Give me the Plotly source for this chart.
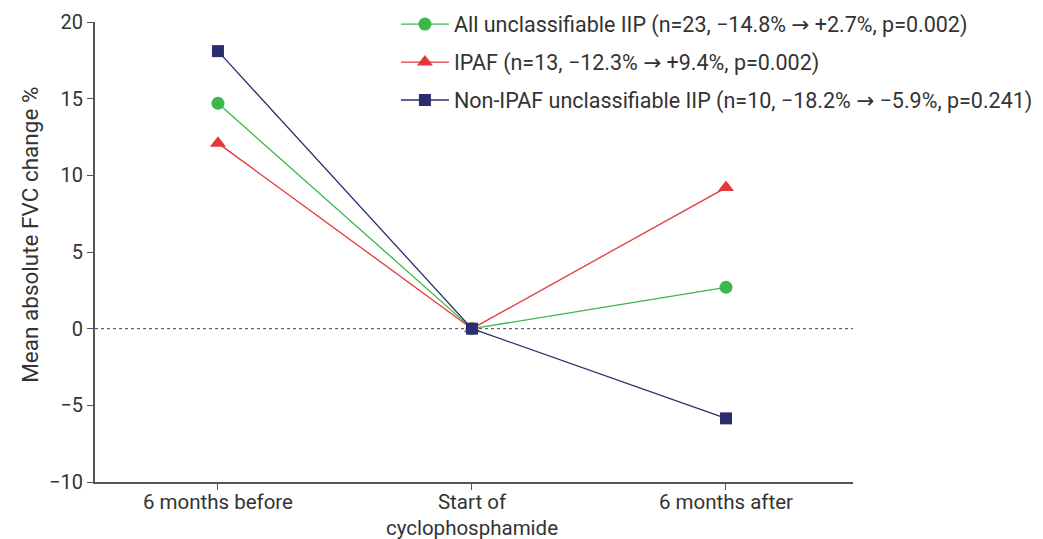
import plotly.graph_objects as go

categories = ["6 months before", "Start of<br>cyclophosphamide", "6 months after"]
all_iip = [14.7, 0.0, 2.7]
ipaf = [12.1, 0.0, 9.2]
non_ipaf = [18.1, 0.0, -5.85]
y_title = "Mean absolute FVC change %"

ARROW = '<span style="font-family:DejaVu Sans">\u2192</span>'
names = [
    f"All unclassifiable IIP (n=23, \u221214.8% {ARROW} +2.7%, p=0.002)",
    f"IPAF (n=13, \u221212.3% {ARROW} +9.4%, p=0.002)",
    f"Non-IPAF unclassifiable IIP (n=10, \u221218.2% {ARROW} \u22125.9%, p=0.241)",
]
colors = ["#3db64a", "#e5373b", "#2b2e6e"]
symbols = ["circle", "triangle-up", "square"]
series = [all_iip, ipaf, non_ipaf]
sizes = [13, 14, 12]

xpos = list(range(len(categories)))
fig = go.Figure()
for i, (vals, name, c, s, sz) in enumerate(zip(series, names, colors, symbols, sizes)):
    fig.add_trace(go.Scatter(
        x=xpos, y=vals, mode="lines+markers", name=name,
        legendgroup=str(i),
        line=dict(color=c, width=1.3),
        marker=dict(color=c, symbol=s, size=sz, line=dict(width=0)),
    ))

fig.add_shape(type="line", xref="x domain", yref="y", x0=0, x1=1, y0=0, y1=0,
              line=dict(color="#444", width=1, dash="dot"), layer="below")

fig.add_annotation(text=y_title, xref="paper", yref="paper", x=-0.086, y=0.537,
                   textangle=-90, showarrow=False, xanchor="center", yanchor="middle",
                   font=dict(size=22.5, color="#333"))

fig.update_layout(
    width=1043, height=539,
    margin=dict(l=95, r=190, t=22, b=57, autoexpand=False),
    paper_bgcolor="white", plot_bgcolor="white",
    font=dict(family="Roboto", size=21, color="#333"),
    showlegend=True,
    legend=dict(x=0.397, y=1.04, xanchor="left", yanchor="top",
                traceorder="grouped", tracegroupgap=7,
                font=dict(size=21.5, color="#333"), bgcolor="rgba(0,0,0,0)",
                itemwidth=48),
    xaxis=dict(range=[-0.484, 2.5], tickmode="array", tickvals=xpos, ticktext=categories,
               showline=True, linecolor="#555", linewidth=2, ticks="outside",
               tickcolor="#555", ticklen=6, tickwidth=1, showgrid=False, zeroline=False,
               ticklabelstandoff=-6,
               tickfont=dict(size=20.5, color="#333")),
    yaxis=dict(range=[-10, 20], tickvals=[-10, -5, 0, 5, 10, 15, 20],
               showline=True, linecolor="#555", linewidth=2, ticks="outside",
               tickcolor="#555", ticklen=6, tickwidth=1, showgrid=False, zeroline=False,
               tickfont=dict(size=20, color="#333")),
)

fig.write_html("out.html", config={"displayModeBar": False},
               post_script="document.body.style.margin='0';document.body.style.padding='0';")
